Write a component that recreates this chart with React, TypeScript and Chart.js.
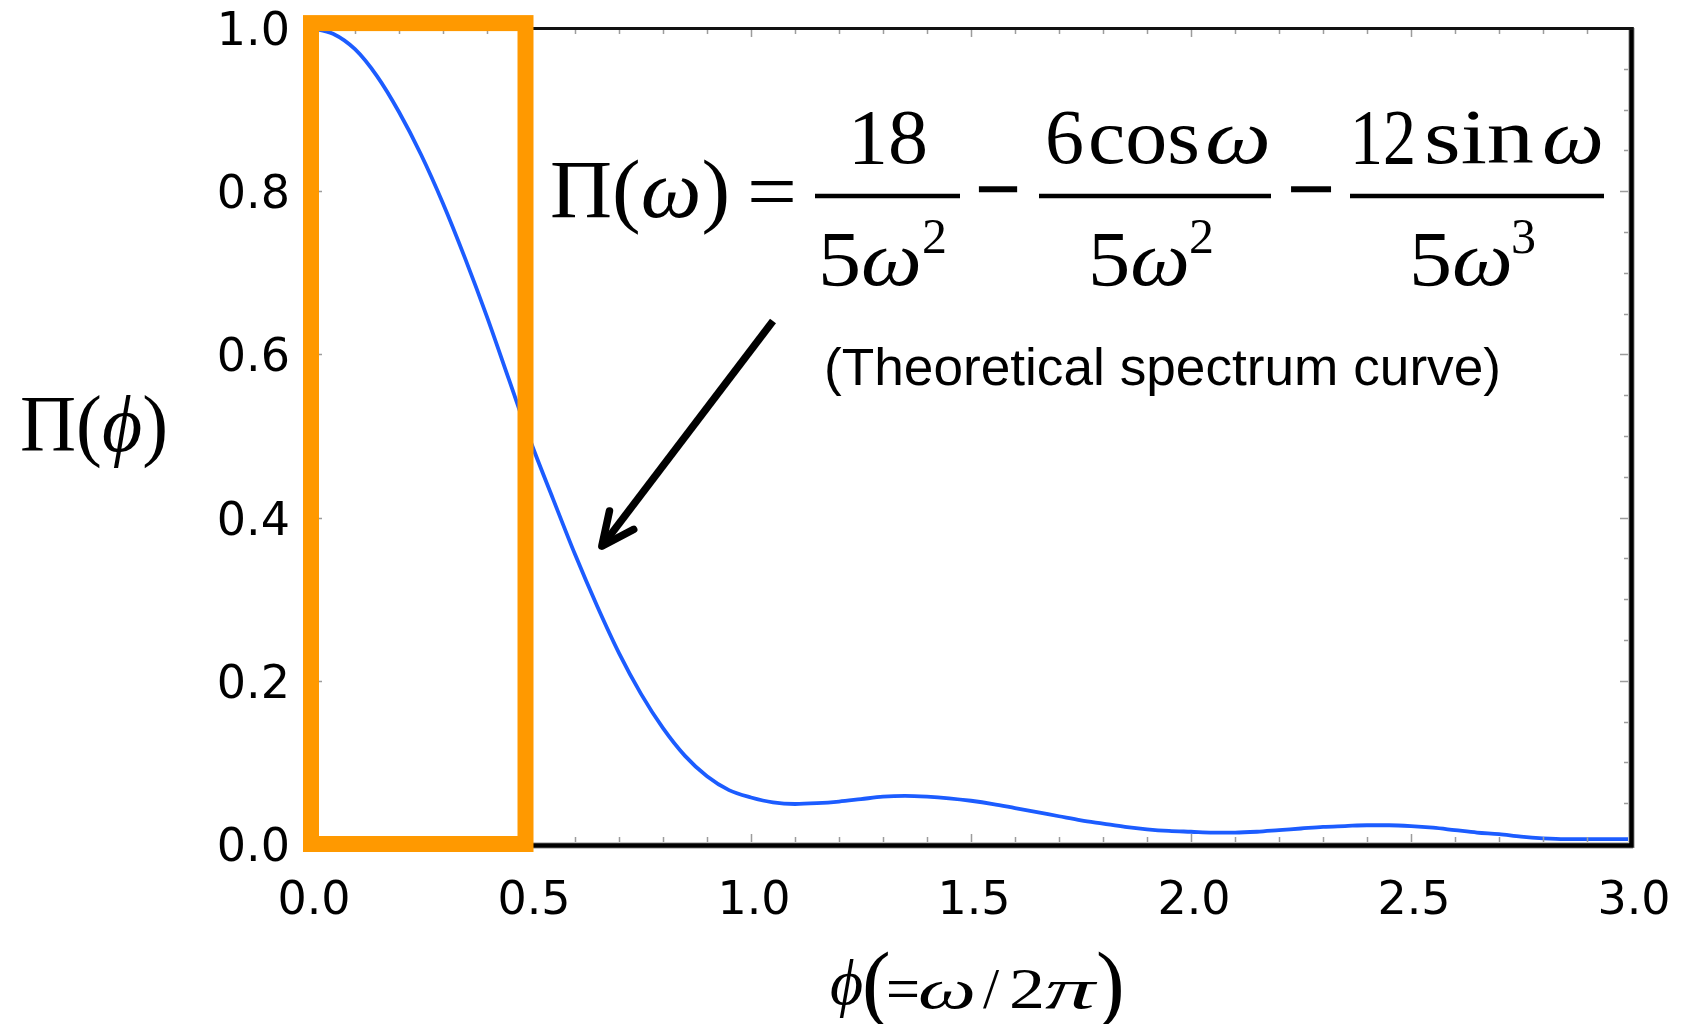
import React, { useEffect, useRef } from 'react';
import { Chart, registerables } from 'chart.js';

Chart.register(...registerables);

// ---- data ----
const phiValues = [
  0.0, 0.05, 0.1, 0.15, 0.2, 0.25, 0.3, 0.35, 0.4, 0.45,
  0.5, 0.55, 0.6, 0.65, 0.7, 0.75, 0.8, 0.85, 0.9, 0.95,
  1.0, 1.05, 1.1, 1.15, 1.2, 1.25, 1.3, 1.35, 1.4, 1.45,
  1.5, 1.55, 1.6, 1.65, 1.7, 1.75, 1.8, 1.85, 1.9, 1.95,
  2.0, 2.05, 2.1, 2.15, 2.2, 2.25, 2.3, 2.35, 2.4, 2.45,
  2.5, 2.55, 2.6, 2.65, 2.7, 2.75, 2.8, 2.85, 2.9, 2.95,
  3.0,
];
const piValues = [
  1.0, 0.993, 0.974, 0.941, 0.897, 0.845, 0.785, 0.718, 0.646, 0.569,
  0.492, 0.423, 0.355, 0.292, 0.234, 0.184, 0.142, 0.108, 0.083, 0.066,
  0.057, 0.051, 0.049, 0.05, 0.052, 0.055, 0.058, 0.059, 0.058, 0.056,
  0.053, 0.049, 0.044, 0.039, 0.034, 0.029, 0.025, 0.021, 0.018, 0.016,
  0.015, 0.014, 0.014, 0.015, 0.017, 0.019, 0.021, 0.022, 0.023, 0.023,
  0.022, 0.02, 0.017, 0.014, 0.012, 0.009, 0.007, 0.006, 0.006, 0.006,
  0.006,
];

const xTickValues = [0, 0.5, 1.0, 1.5, 2.0, 2.5, 3.0];
const xTickLabels = ['0.0', '0.5', '1.0', '1.5', '2.0', '2.5', '3.0'];
const yTickValues = [0, 0.2, 0.4, 0.6, 0.8, 1.0];
const yTickLabels = ['0.0', '0.2', '0.4', '0.6', '0.8', '1.0'];

// highlighted region (data units) and arrow (data units)
const boxXRange = [0, 0.4875];
const boxYRange = [0, 1.006];
const arrowTail = [1.05, 0.641];
const arrowTip = [0.661, 0.365];

const decorPlugin = {
  id: 'decor',
  afterDatasetsDraw(chart: any) {
    const { ctx, chartArea: a, scales } = chart;
    const xs = scales.x;
    const ys = scales.y;
    ctx.save();
    // inner ticks
    ctx.strokeStyle = '#9c9c9c';
    ctx.lineWidth = 1.5;
    ctx.beginPath();
    for (let i = 1; i < 30; i++) {
      const px = Math.round(xs.getPixelForValue(i / 10)) + 0.5;
      const major = i % 5 === 0;
      ctx.moveTo(px, a.bottom);
      ctx.lineTo(px, a.bottom - (major ? 10 : 7));
      ctx.moveTo(px, a.top);
      ctx.lineTo(px, a.top + (major ? 9 : 6));
    }
    for (let i = 1; i < 20; i++) {
      const py = Math.round(ys.getPixelForValue(i / 20)) + 0.5;
      const major = i % 4 === 0;
      ctx.moveTo(a.right, py);
      ctx.lineTo(a.right - (major ? 11 : 7), py);
      ctx.moveTo(a.left, py);
      ctx.lineTo(a.left + (major ? 11 : 7), py);
    }
    ctx.stroke();

    // frame: soft shadow + black lines
    ctx.lineCap = 'butt';
    ctx.strokeStyle = '#c4c4c4';
    ctx.lineWidth = 7;
    ctx.beginPath();
    ctx.moveTo(a.left, a.bottom + 1.5);
    ctx.lineTo(a.right + 2, a.bottom + 1.5);
    ctx.moveTo(a.right + 0.5, a.top);
    ctx.lineTo(a.right + 0.5, a.bottom + 4);
    ctx.stroke();
    ctx.strokeStyle = '#000';
    ctx.lineWidth = 4.5;
    ctx.beginPath();
    ctx.moveTo(a.left, a.bottom + 1.5);
    ctx.lineTo(a.right + 2.5, a.bottom + 1.5);
    ctx.moveTo(a.right + 0.5, a.top - 1);
    ctx.lineTo(a.right + 0.5, a.bottom + 3.5);
    ctx.stroke();
    ctx.strokeStyle = '#111';
    ctx.lineWidth = 3;
    ctx.beginPath();
    ctx.moveTo(a.left, a.top + 0.5);
    ctx.lineTo(a.right + 2, a.top + 0.5);
    ctx.stroke();
    ctx.restore();
  },
  afterDraw(chart: any) {
    const { ctx, scales } = chart;
    const xs = scales.x;
    const ys = scales.y;
    ctx.save();
    // orange highlight box
    const bx0 = xs.getPixelForValue(boxXRange[0]);
    const bx1 = xs.getPixelForValue(boxXRange[1]);
    const by0 = ys.getPixelForValue(boxYRange[0]);
    const by1 = ys.getPixelForValue(boxYRange[1]);
    ctx.strokeStyle = '#FF9900';
    ctx.lineWidth = 16;
    ctx.lineJoin = 'miter';
    ctx.strokeRect(bx0, by1, bx1 - bx0, by0 - by1);

    // arrow
    const tx = xs.getPixelForValue(arrowTail[0]);
    const ty = ys.getPixelForValue(arrowTail[1]);
    const hx = xs.getPixelForValue(arrowTip[0]);
    const hy = ys.getPixelForValue(arrowTip[1]);
    ctx.strokeStyle = '#000';
    ctx.lineWidth = 7.5;
    ctx.lineCap = 'butt';
    ctx.beginPath();
    ctx.moveTo(tx, ty);
    ctx.lineTo(hx, hy);
    ctx.stroke();
    const ang = Math.atan2(ty - hy, tx - hx);
    const len = 36;
    const spread = (25 * Math.PI) / 180;
    ctx.lineCap = 'round';
    ctx.lineJoin = 'round';
    ctx.beginPath();
    ctx.moveTo(hx + len * Math.cos(ang - spread), hy + len * Math.sin(ang - spread));
    ctx.lineTo(hx, hy);
    ctx.lineTo(hx + len * Math.cos(ang + spread), hy + len * Math.sin(ang + spread));
    ctx.stroke();
    ctx.restore();
  },
};

const serif = '"Liberation Serif", "Times New Roman", serif';
const sans = '"Liberation Sans", Arial, sans-serif';
const tickFont = '"DejaVu Sans", Verdana, sans-serif';

const zeroPadding = (s: any) => {
  s.paddingTop = 0;
  s.paddingBottom = 0;
  s.paddingLeft = 0;
  s.paddingRight = 0;
};

export default function App() {
  const ref = useRef<HTMLCanvasElement>(null);

  useEffect(() => {
    document.body.style.margin = '0';
    document.body.style.overflow = 'hidden';
    const canvas = ref.current;
    if (!canvas) return;
    const chart = new Chart(canvas, {
      type: 'line',
      data: {
        datasets: [
          {
            data: phiValues.map((p, i) => ({ x: p, y: piValues[i] })),
            borderColor: '#1c5cff',
            borderWidth: 3.8,
            pointRadius: 0,
            fill: false,
            cubicInterpolationMode: 'monotone',
          },
        ],
      },
      options: {
        responsive: false,
        devicePixelRatio: 1,
        animation: false,
        events: [],
        layout: { padding: { top: 28, right: 52, left: 0, bottom: 0 } },
        plugins: { legend: { display: false }, tooltip: { enabled: false } },
        scales: {
          x: {
            type: 'linear',
            min: 0,
            max: 3,
            position: 'bottom',
            afterBuildTicks: (s: any) => {
              s.ticks = xTickValues.map((v) => ({ value: v }));
            },
            afterFit: (s: any) => {
              s.height = 180;
              zeroPadding(s);
            },
            grid: { display: false, drawTicks: false },
            border: { display: false },
            ticks: {
              autoSkip: false,
              maxRotation: 0,
              minRotation: 0,
              padding: 30,
              labelOffset: 3,
              color: '#000',
              font: { family: tickFont, size: 46 },
              callback: (_v: any, i: number) => xTickLabels[i],
            },
          },
          y: {
            type: 'linear',
            min: 0,
            max: 1,
            position: 'left',
            afterBuildTicks: (s: any) => {
              s.ticks = yTickValues.map((v) => ({ value: v }));
            },
            afterFit: (s: any) => {
              s.width = 311;
              zeroPadding(s);
            },
            grid: { display: false, drawTicks: false },
            border: { display: false },
            ticks: {
              autoSkip: false,
              padding: 21,
              labelOffset: 5,
              color: '#000',
              font: { family: tickFont, size: 46 },
              callback: (_v: any, i: number) => yTickLabels[i],
            },
          },
        },
      },
      plugins: [decorPlugin],
    } as any);
    return () => chart.destroy();
  }, []);

  const minusProps = { fontFamily: serif, fontSize: 80, fill: '#000', stroke: '#000', strokeWidth: 2 };

  return (
    <div style={{ position: 'relative', width: 1683, height: 1024, overflow: 'hidden', background: '#fff' }}>
      <canvas
        ref={ref}
        width={1683}
        height={1024}
        style={{ position: 'absolute', left: 0, top: 0, width: 1683, height: 1024 }}
      />
      <svg
        width={1683}
        height={1024}
        style={{ position: 'absolute', left: 0, top: 0, pointerEvents: 'none' }}
      >
        {/* y-axis title */}
        <text x={20} y={451} fontFamily={serif} fontSize={80} fill="#000" textLength={148} lengthAdjust="spacingAndGlyphs">
          Π(<tspan fontStyle="italic">ϕ</tspan>)
        </text>

        {/* x-axis title */}
        <text x={830} y={1004} fontFamily={serif} fontSize={64} fontStyle="italic" fill="#000">ϕ</text>
        <text x={862} y={1012} fontFamily={serif} fontSize={86} fill="#000">(</text>
        <text x={886} y={1010} fontFamily={serif} fontSize={64} fill="#000" textLength={34} lengthAdjust="spacingAndGlyphs">=</text>
        <text x={918} y={1008} fontFamily={serif} fontSize={58} fontStyle="italic" fill="#000" textLength={58} lengthAdjust="spacingAndGlyphs">ω</text>
        <text x={983} y={1008} fontFamily={serif} fontSize={58} fill="#000">/</text>
        <text x={1009} y={1008} fontFamily={serif} fontSize={58} fill="#000" textLength={36} lengthAdjust="spacingAndGlyphs">2</text>
        <text x={1045} y={1008} fontFamily={serif} fontSize={58} fontStyle="italic" fill="#000" textLength={50} lengthAdjust="spacingAndGlyphs">π</text>
        <text x={1096} y={1012} fontFamily={serif} fontSize={86} fill="#000">)</text>

        {/* formula */}
        <text x={550} y={217} fontFamily={serif} fontSize={82} fill="#000" textLength={180} lengthAdjust="spacingAndGlyphs">
          Π(<tspan fontStyle="italic">ω</tspan>)
        </text>
        <text x={747} y={219} fontFamily={serif} fontSize={82} fill="#000" textLength={50} lengthAdjust="spacingAndGlyphs">=</text>

        <text x={848} y={163} fontFamily={serif} fontSize={78} fill="#000" textLength={80} lengthAdjust="spacingAndGlyphs">18</text>
        <line x1={815} y1={196} x2={960} y2={196} stroke="#000" strokeWidth={4.5} />
        <text x={818} y={285} fontFamily={serif} fontSize={78} fill="#000" textLength={104} lengthAdjust="spacingAndGlyphs">
          5<tspan fontStyle="italic">ω</tspan>
        </text>
        <text x={922} y={253} fontFamily={serif} fontSize={50} fill="#000">2</text>

        <text x={976} y={216} {...minusProps} textLength={44} lengthAdjust="spacingAndGlyphs">−</text>

        <text x={1045} y={163} fontFamily={serif} fontSize={78} fill="#000">6</text>
        <text x={1088} y={163} fontFamily={serif} fontSize={78} fill="#000" textLength={112} lengthAdjust="spacingAndGlyphs">cos</text>
        <text x={1205} y={163} fontFamily={serif} fontSize={78} fontStyle="italic" fill="#000" textLength={66} lengthAdjust="spacingAndGlyphs">ω</text>
        <line x1={1039} y1={196} x2={1271} y2={196} stroke="#000" strokeWidth={4.5} />
        <text x={1088} y={285} fontFamily={serif} fontSize={78} fill="#000" textLength={102} lengthAdjust="spacingAndGlyphs">
          5<tspan fontStyle="italic">ω</tspan>
        </text>
        <text x={1189} y={253} fontFamily={serif} fontSize={50} fill="#000">2</text>

        <text x={1288} y={216} {...minusProps} textLength={46} lengthAdjust="spacingAndGlyphs">−</text>

        <text x={1350} y={163} fontFamily={serif} fontSize={78} fill="#000" textLength={66} lengthAdjust="spacingAndGlyphs">12</text>
        <text x={1424} y={163} fontFamily={serif} fontSize={78} fill="#000" textLength={110} lengthAdjust="spacingAndGlyphs">sin</text>
        <text x={1542} y={163} fontFamily={serif} fontSize={78} fontStyle="italic" fill="#000" textLength={62} lengthAdjust="spacingAndGlyphs">ω</text>
        <line x1={1350} y1={196} x2={1604} y2={196} stroke="#000" strokeWidth={4.5} />
        <text x={1409} y={285} fontFamily={serif} fontSize={78} fill="#000" textLength={104} lengthAdjust="spacingAndGlyphs">
          5<tspan fontStyle="italic">ω</tspan>
        </text>
        <text x={1511} y={253} fontFamily={serif} fontSize={50} fill="#000">3</text>

        {/* caption */}
        <text x={824} y={385} fontFamily={sans} fontSize={51} fill="#000" textLength={677} lengthAdjust="spacingAndGlyphs">
          (Theoretical spectrum curve)
        </text>
      </svg>
    </div>
  );
}
